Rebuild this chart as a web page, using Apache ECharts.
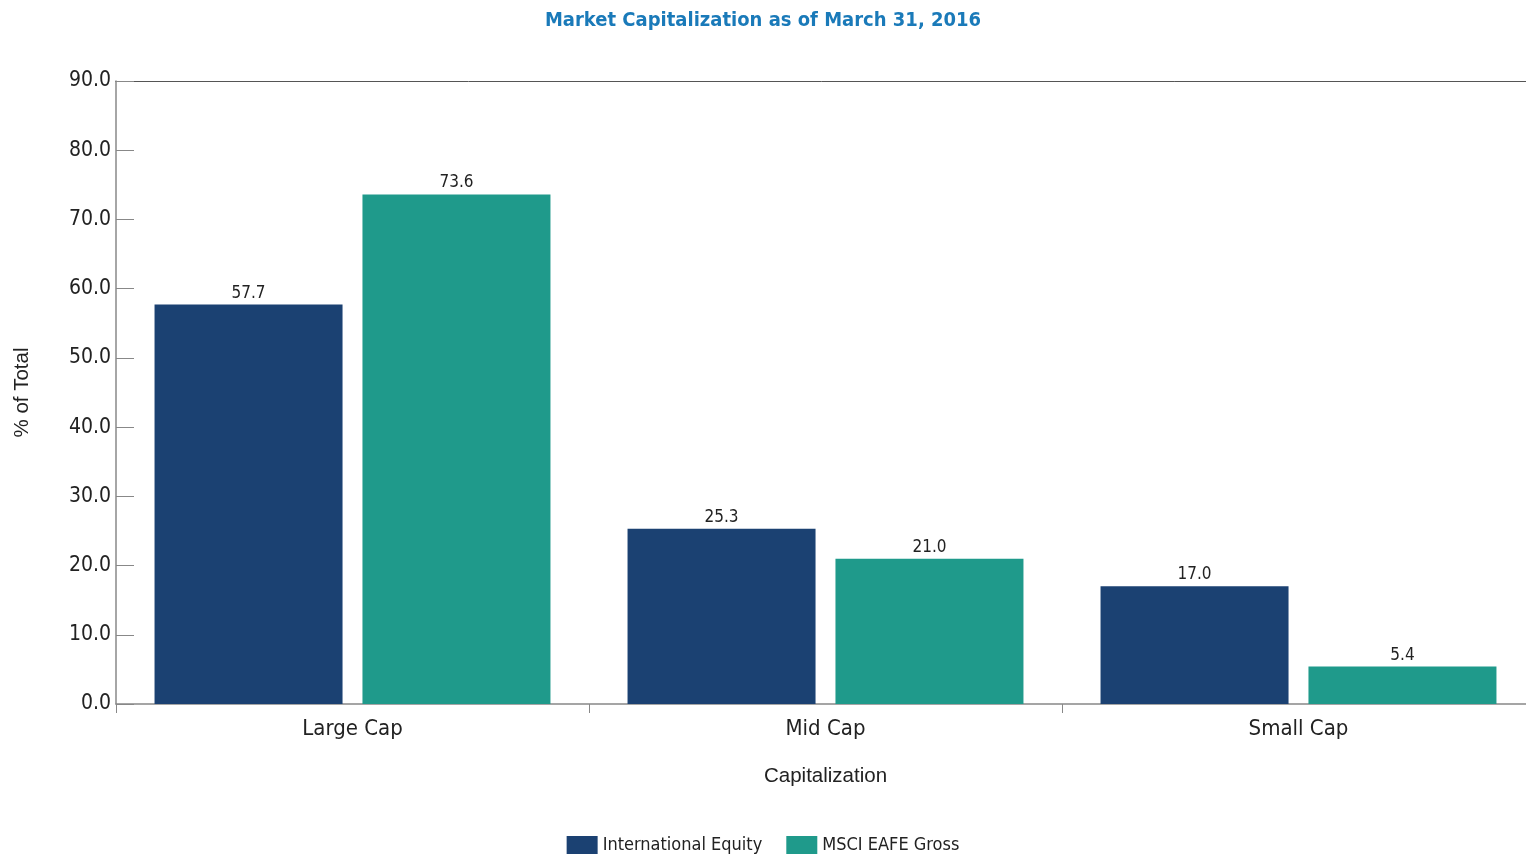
<!DOCTYPE html>
<html>
<head>
<meta charset="utf-8">
<script src="https://cdn.jsdelivr.net/npm/echarts@6/dist/echarts.min.js"></script>
<style>
  html, body { margin: 0; padding: 0; background: #fff; }
  #chart { width: 1526px; height: 859px; }
</style>
</head>
<body>
<div id="chart"></div>
<script>
// Market capitalization breakdown, % of total
const categories = ['Large Cap', 'Mid Cap', 'Small Cap'];
const internationalEquity = [57.7, 25.3, 17.0];
const msciEafeGross = [73.6, 21.0, 5.4];
const seriesNames = ['International Equity', 'MSCI EAFE Gross'];

const narrow = '"DejaVu Sans Condensed", "Liberation Sans Narrow", "Arial Narrow", sans-serif';
const regular = '"Liberation Sans", Arial, sans-serif';

const chart = echarts.init(document.getElementById('chart'));

const labelOpt = {
  show: true,
  position: 'top',
  distance: 3,
  color: '#222',
  fontFamily: narrow,
  fontSize: 17,
  formatter: p => p.value.toFixed(1)
};

chart.setOption({
  animation: false,
  title: {
    text: 'Market Capitalization as of March 31, 2016',
    left: 'center',
    top: 6,
    textStyle: { color: '#1a7ab9', fontFamily: narrow, fontWeight: 'bold', fontSize: 20 }
  },
  legend: {
    bottom: 0,
    left: 'center',
    icon: 'rect',
    itemWidth: 31,
    itemHeight: 18,
    itemGap: 24,
    textStyle: { color: '#222', fontFamily: narrow, fontSize: 18 },
    data: seriesNames
  },
  grid: { left: 116, top: 81, width: 1419, height: 623, outerBoundsMode: 'none', containLabel: false },
  xAxis: [
    {
      type: 'category',
      data: categories,
      axisLine: { lineStyle: { color: '#888', width: 1.5 } },
      axisTick: { show: true, length: 9, lineStyle: { color: '#888' } },
      axisLabel: { color: '#222', fontFamily: narrow, fontSize: 22, margin: 14 },
      name: 'Capitalization',
      nameLocation: 'middle',
      nameGap: 62,
      nameTextStyle: { color: '#222', fontFamily: regular, fontSize: 20.5 }
    },
    {
      type: 'category',
      data: categories,
      position: 'top',
      axisLine: { show: true, lineStyle: { color: '#555', width: 1 } },
      axisTick: { show: false },
      axisLabel: { show: false }
    }
  ],
  yAxis: {
    type: 'value',
    min: 0,
    max: 90,
    interval: 10,
    splitLine: { show: false },
    axisLine: { show: true, lineStyle: { color: '#888', width: 1.5 } },
    axisTick: { show: true, inside: true, length: 18, lineStyle: { color: '#888' } },
    axisLabel: { color: '#222', fontFamily: narrow, fontSize: 21, margin: 5, formatter: v => v.toFixed(1) },
    name: '% of Total',
    nameLocation: 'middle',
    nameRotate: 90,
    nameGap: 83,
    nameTextStyle: { color: '#222', fontFamily: regular, fontSize: 20.5 }
  },
  series: [
    {
      name: seriesNames[0],
      type: 'bar',
      data: internationalEquity,
      barWidth: 188,
      barGap: '10.6%',
      itemStyle: { color: '#1b4172' },
      label: labelOpt
    },
    {
      name: seriesNames[1],
      type: 'bar',
      data: msciEafeGross,
      barWidth: 188,
      itemStyle: { color: '#1f9a8b' },
      label: labelOpt
    }
  ]
});
</script>
</body>
</html>
